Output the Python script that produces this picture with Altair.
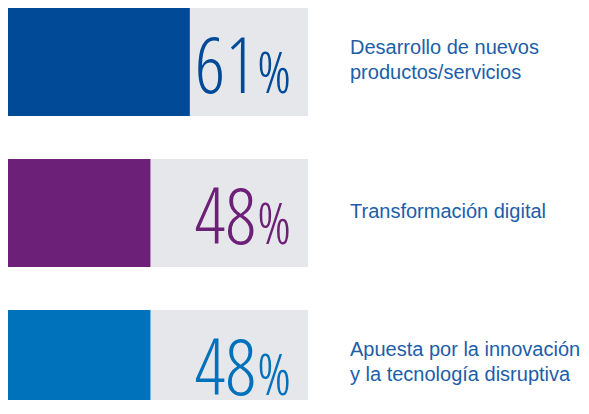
import altair as alt
import pandas as pd

categories = ["Desarrollo de nuevos\nproductos/servicios",
              "Transformación digital",
              "Apuesta por la innovación\ny la tecnología disruptiva"]
values = [61, 48, 48]
bar_colors = ["#004a98", "#6d2077", "#0071bb"]
full_scale = [100, 100, 100]

df = pd.DataFrame({
    "cat": categories,
    "value": values,
    "full": full_scale,
})

y_enc = alt.Y("cat:N", sort=categories, axis=None,
              scale=alt.Scale(range=[0, 410], paddingInner=43 / 151, paddingOuter=0))
x_scale = alt.Scale(domain=[0, 100], range=[-3, 300])
color_enc = alt.Color("cat:N", sort=categories, legend=None,
                      scale=alt.Scale(domain=categories, range=bar_colors))

base = alt.Chart(df)

bg = base.mark_bar(color="#e6e7eb").encode(
    x=alt.X("full:Q", scale=x_scale, axis=None), y=y_enc)

bars = base.mark_bar().encode(
    x=alt.X("value:Q", scale=x_scale, axis=None), y=y_enc, color=color_enc)

digits = base.mark_text(align="right", baseline="alphabetic", dy=31,
                        font="Open Sans Condensed Light", fontWeight=300, fontSize=77).encode(
    x=alt.value(248), y=y_enc, text=alt.Text("value:Q"), color=color_enc)

pct = base.mark_text(align="left", baseline="alphabetic", dy=31, text="%",
                     font="Open Sans Condensed Light", fontWeight=300, fontSize=58).encode(
    x=alt.value(249), y=y_enc, color=color_enc)

label_style = dict(align="left", baseline="middle", lineBreak="\n", lineHeight=25,
                   font="Liberation Sans", fontSize=20, color="#1c5ea9")

labels_multi = base.transform_filter("indexof(datum.cat, '\\n') >= 0").mark_text(
    dy=-14, **label_style).encode(x=alt.value(342), y=y_enc, text="cat:N")

labels_single = base.transform_filter("indexof(datum.cat, '\\n') < 0").mark_text(
    dy=-1.5, **label_style).encode(x=alt.value(342), y=y_enc, text="cat:N")

chart = alt.layer(bg, bars, digits, pct, labels_multi, labels_single).properties(
    width=573, height=392,
    autosize=alt.AutoSizeParams(type="none"),
    padding=0,
).configure_view(stroke=None)

chart.save("out.html", embed_options={"renderer": "svg", "actions": False})
